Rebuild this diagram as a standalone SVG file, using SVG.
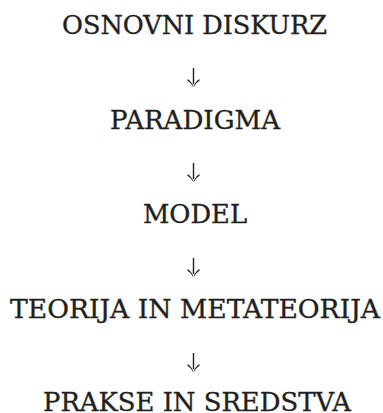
<svg xmlns="http://www.w3.org/2000/svg" width="383" height="413" viewBox="0 0 383 413">
<style>
.t{font-family:"DejaVu Serif","Liberation Serif",serif;font-size:25.5px;fill:#231f20;stroke:#231f20;stroke-width:0.35;text-anchor:middle}
.c{stroke:#231f20;stroke-width:1.4;fill:none}
.h{fill:#231f20;stroke:none}
</style>
<defs>
<g id="arr">
<line class="c" x1="0" y1="0" x2="0" y2="16"/>
<path class="h" d="M-6,11 Q-2.2,13.2 0,18.5 Q2.2,13.2 6,11 L6,12.8 Q2.2,15 0.6,18.5 L-0.6,18.5 Q-2.2,15 -6,12.8 Z"/>
</g>
</defs>
<rect width="383" height="413" fill="#ffffff"/>
<g id="n1"><text class="t" x="194.5" y="33.5" textLength="265" lengthAdjust="spacingAndGlyphs">OSNOVNI DISKURZ</text></g>
<g id="n2"><text class="t" x="195" y="129" textLength="170" lengthAdjust="spacingAndGlyphs">PARADIGMA</text></g>
<g id="n3"><text class="t" x="195" y="223" textLength="104" lengthAdjust="spacingAndGlyphs">MODEL</text></g>
<g id="n4"><text class="t" x="195" y="317.5" textLength="370" lengthAdjust="spacingAndGlyphs">TEORIJA IN METATEORIJA</text></g>
<g id="n5"><text class="t" x="197" y="410.5" textLength="308" lengthAdjust="spacingAndGlyphs">PRAKSE IN SREDSTVA</text></g>
<g id="connectors">
<use href="#arr" x="193.5" y="68"/>
<use href="#arr" x="193.5" y="163"/>
<use href="#arr" x="193.5" y="258"/>
<use href="#arr" x="193.5" y="353"/>
</g>
</svg>
